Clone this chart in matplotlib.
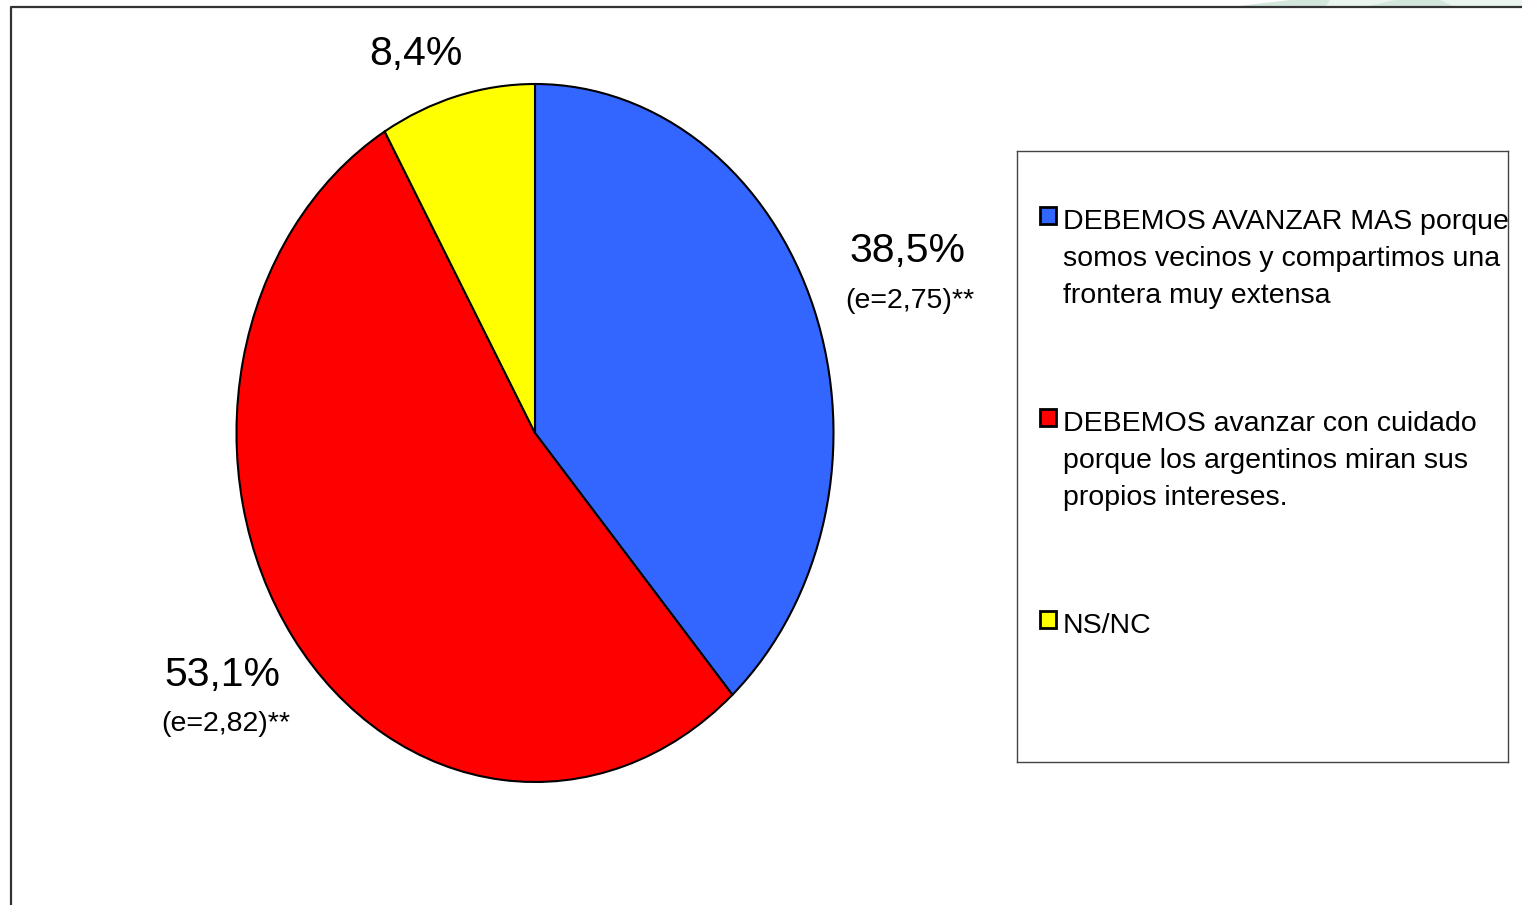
import matplotlib.pyplot as plt
from matplotlib.patches import Rectangle, Polygon
from matplotlib.lines import Line2D

plt.rcParams["font.family"] = ["Liberation Sans", "DejaVu Sans"]

# data
categories = [
    "DEBEMOS AVANZAR MAS porque\nsomos vecinos y compartimos una\nfrontera muy extensa",
    "DEBEMOS avanzar con cuidado\nporque los argentinos miran sus\npropios intereses.",
    "NS/NC",
]
values = [38.5, 53.1, 8.4]
errors = ["(e=2,75)**", "(e=2,82)**", None]
colors = ["#3366FF", "#FF0000", "#FFFF00"]

W, H = 1522, 905
fig = plt.figure(figsize=(W / 100, H / 100), dpi=100)


def box(x0, y0, x1, y1):
    # pixel box (top-left origin) -> figure fraction rect
    return [x0 / W, 1 - y1 / H, (x1 - x0) / W, (y1 - y0) / H]


# faint green decoration at the top right
deco = fig.add_axes([0, 0, 1, 1], zorder=0)
deco.set_xlim(0, W)
deco.set_ylim(H, 0)
deco.axis("off")
deco.add_patch(Polygon([(1230, 7), (1320, 0), (1522, 0), (1522, 7)],
                       closed=True, color="#eaf5ef", lw=0))
deco.add_patch(Polygon([(1230, 7), (1290, 0), (1330, 0), (1325, 7)],
                       closed=True, color="#d3e7dd", lw=0))
deco.add_patch(Polygon([(1365, 7), (1395, 0), (1440, 0), (1455, 7)],
                       closed=True, color="#d3e7dd", lw=0))
deco.add_line(Line2D([11, 11, W], [H, 7, 7], color="#333333", lw=1.6))

# pie (elliptical, as in the original)
ax = fig.add_axes(box(236.5, 84, 833.5, 782))
ax.pie(values, colors=colors, startangle=90, counterclock=False,
       wedgeprops=dict(edgecolor="black", linewidth=1.5))
ax.set_aspect("auto")
ax.set_xlim(-1, 1)
ax.set_ylim(-1, 1)
ax.axis("off")

# value labels
label_pos = [(907, 251), (222, 675), (416, 54)]
err_pos = [(910, 301), (226, 724), None]
for v, e, p, ep in zip(values, errors, label_pos, err_pos):
    fig.text(p[0] / W, 1 - p[1] / H, f"{v:.1f}%".replace(".", ","),
             fontsize=29.5, ha="center", va="center")
    if e:
        fig.text(ep[0] / W, 1 - ep[1] / H, e, fontsize=20.5,
                 ha="center", va="center")

# legend box
lg = fig.add_axes(box(1017, 151, 1508, 762))
lg.set_xlim(0, 491)
lg.set_ylim(611, 0)
lg.set_xticks([])
lg.set_yticks([])
for s in lg.spines.values():
    s.set_color("#444444")
    s.set_linewidth(1.0)

entry_y = [68, 270, 472]
for cat, c, y in zip(categories, colors, entry_y):
    lg.add_patch(Rectangle((23, y - 12), 16, 17, facecolor=c,
                           edgecolor="black", linewidth=2))
    lg.text(46, y - 10, cat, fontsize=20.5, va="top", ha="left",
            linespacing=1.56, clip_on=True)

fig.savefig("out.png", dpi=100)
